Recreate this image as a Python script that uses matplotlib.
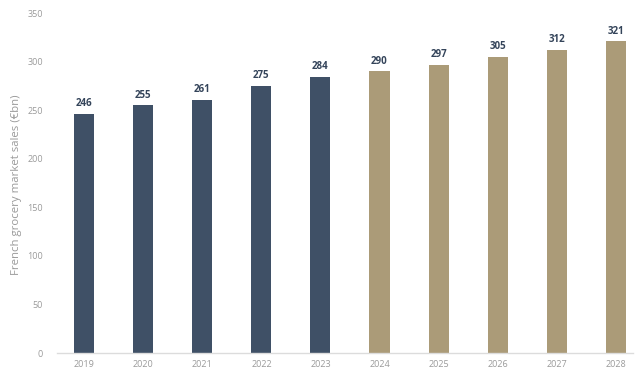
import matplotlib.pyplot as plt
import numpy as np

plt.rcParams['font.family'] = ['Open Sans', 'DejaVu Sans']

years = ['2019', '2020', '2021', '2022', '2023', '2024', '2025', '2026', '2027', '2028']
sales = [246, 255, 261, 275, 284, 290, 297, 305, 312, 321]
n_actual = 5  # 2019-2023 actual, rest forecast

navy = '#3f5066'
tan = '#ab9b78'
colors = [navy] * n_actual + [tan] * (len(years) - n_actual)

fig = plt.figure(figsize=(6.37, 3.73), dpi=100)
ax = fig.add_axes([0.0895, 0.0536, 0.905, 0.911])

x = np.arange(len(years))
bars = ax.bar(x, sales, width=0.34, color=colors, zorder=2)

for xi, v in zip(x, sales):
    ax.text(xi, v + 5, str(v), ha='center', va='bottom', fontsize=7,
            fontweight='bold', color='#34445a')

ax.set_xlim(-0.46, 9.3)
ax.set_ylim(0, 350)
ax.set_yticks(range(0, 351, 50))
ax.set_xticks(x)
ax.set_xticklabels(years)
ax.tick_params(axis='both', length=0, labelsize=6.5, colors='#9a9a9a')
ax.tick_params(axis='y', pad=10)
ax.tick_params(axis='x', pad=5)

for side in ['top', 'right', 'left']:
    ax.spines[side].set_visible(False)
ax.spines['bottom'].set_color('#dcdcdc')
ax.spines['bottom'].set_linewidth(1.0)

ax.set_ylabel('French grocery market sales (€bn)', fontsize=8.2, color='#9a9a9a', labelpad=3)
ax.yaxis.set_label_coords(-0.06, 0.495)

fig.savefig('out.png', dpi=100)
